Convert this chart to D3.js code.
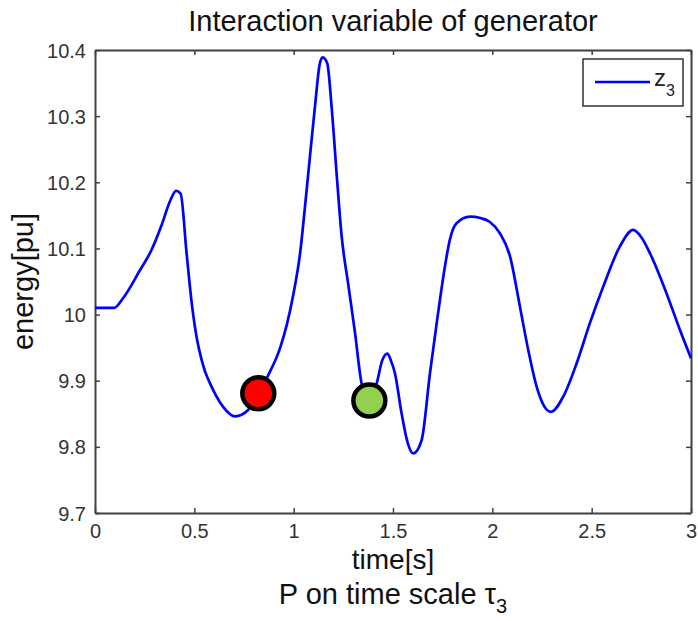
<!DOCTYPE html>
<html>
<head>
<meta charset="utf-8">
<script src="https://cdn.jsdelivr.net/npm/d3@7"></script>
<style>
  body { margin: 0; background: #fff; }
  text { font-family: Arial, "Liberation Sans", sans-serif; }
</style>
</head>
<body>
<div id="chart"></div>
<script>
// values
const timeS = [0, 0.05, 0.096, 0.142, 0.226, 0.285, 0.335, 0.377, 0.408, 0.431,
  0.461, 0.487, 0.512, 0.537, 0.554, 0.579, 0.612, 0.646, 0.705, 0.772,
  0.822, 0.873, 0.931, 0.965, 0.998, 1.032, 1.057, 1.082, 1.107, 1.132,
  1.146, 1.169, 1.191, 1.216, 1.241, 1.275, 1.309, 1.342, 1.381, 1.418,
  1.445, 1.472, 1.49, 1.51, 1.543, 1.575, 1.602, 1.644, 1.686, 1.72,
  1.761, 1.786, 1.82, 1.887, 1.94, 1.988, 2.038, 2.089, 2.139, 2.181,
  2.223, 2.26, 2.295, 2.357, 2.424, 2.491, 2.558, 2.642, 2.709, 2.75,
  2.793, 2.877, 2.944, 3.0]
const energyZ3 = [10.01, 10.01, 10.01, 10.025, 10.067, 10.098, 10.135, 10.171, 10.187, 10.183,
  10.093, 10.017, 9.965, 9.931, 9.914, 9.896, 9.876, 9.86, 9.846, 9.856,
  9.881, 9.909, 9.949, 9.984, 10.03, 10.092, 10.163, 10.239, 10.314, 10.38,
  10.389, 10.38, 10.314, 10.214, 10.12, 10.045, 9.972, 9.896, 9.87, 9.896,
  9.93, 9.941, 9.93, 9.911, 9.851, 9.805, 9.79, 9.81, 9.911, 9.987,
  10.072, 10.113, 10.138, 10.148, 10.146, 10.14, 10.123, 10.088, 10.012, 9.946,
  9.891, 9.862, 9.853, 9.876, 9.926, 9.987, 10.042, 10.103, 10.128, 10.117,
  10.093, 10.032, 9.977, 9.934]

const markerT = [0.822, 1.381]
const markerE = [9.881, 9.870]
const markerColors = ['#ff0000', '#92d050']

const xTicks = [0, 0.5, 1, 1.5, 2, 2.5, 3]
const yTicks = [9.7, 9.8, 9.9, 10, 10.1, 10.2, 10.3, 10.4]

const W = 698, H = 621
const margin = {top: 50, right: 7, bottom: 108, left: 95}
const width = W - margin.left - margin.right
const height = H - margin.top - margin.bottom
const axisColor = '#404040'

const svg = d3.select('#chart').append('svg')
  .attr('width', W)
  .attr('height', H)

svg.append('rect').attr('width', W).attr('height', H).attr('fill', '#fff')

const g = svg.append('g')
  .attr('transform', `translate(${margin.left}, ${margin.top})`)

const x = d3.scaleLinear().domain([0, 3]).range([0, width])
const y = d3.scaleLinear().domain([9.7, 10.4]).range([height, 0])

// axes with inward ticks, mirrored on top and right
const fmt = d => d3.format('')(+d.toFixed(1))
const bottomAxis = g.append('g').attr('transform', `translate(0, ${height})`)
  .call(d3.axisBottom(x).tickValues(xTicks).tickSizeInner(-5).tickSizeOuter(0).tickPadding(11).tickFormat(fmt))
const leftAxis = g.append('g')
  .call(d3.axisLeft(y).tickValues(yTicks).tickSizeInner(-5).tickSizeOuter(0).tickPadding(9).tickFormat(fmt))
const topAxis = g.append('g')
  .call(d3.axisTop(x).tickValues(xTicks).tickSizeInner(-5).tickSizeOuter(0).tickFormat(''))
const rightAxis = g.append('g').attr('transform', `translate(${width}, 0)`)
  .call(d3.axisRight(y).tickValues(yTicks).tickSizeInner(-5).tickSizeOuter(0).tickFormat(''))

;[bottomAxis, leftAxis, topAxis, rightAxis].forEach(a => {
  a.select('.domain').attr('stroke', axisColor).attr('stroke-width', 2)
  a.selectAll('.tick line').attr('stroke', axisColor).attr('stroke-width', 1.5)
  a.selectAll('.tick text')
    .attr('fill', '#333')
    .style('font-size', '20px')
})
bottomAxis.selectAll('.tick text').attr('dy', '0.71em')
leftAxis.selectAll('.tick text').attr('dy', '0.35em')

// curve
const data = timeS.map((t, i) => ({t: t, e: energyZ3[i]}))
const line = d3.line()
  .x(d => x(d.t))
  .y(d => y(d.e))
  .curve(d3.curveMonotoneX)

g.append('path')
  .datum(data)
  .attr('fill', 'none')
  .attr('stroke', '#0000ff')
  .attr('stroke-width', 2.7)
  .attr('stroke-linejoin', 'round')
  .attr('d', line)

// markers
g.selectAll('circle.marker')
  .data(markerT.map((t, i) => ({t: t, e: markerE[i], c: markerColors[i]})))
  .enter()
  .append('circle')
  .attr('class', 'marker')
  .attr('cx', d => x(d.t))
  .attr('cy', d => y(d.e))
  .attr('r', 16)
  .attr('fill', d => d.c)
  .attr('stroke', '#000')
  .attr('stroke-width', 4.5)

// legend
const legend = g.append('g').attr('transform', `translate(${width - 108}, 9)`)
legend.append('rect')
  .attr('width', 100).attr('height', 47)
  .attr('fill', '#fff')
  .attr('stroke', '#333').attr('stroke-width', 1.5)
legend.append('line')
  .attr('x1', 12).attr('x2', 67).attr('y1', 23).attr('y2', 23)
  .attr('stroke', '#0000ff').attr('stroke-width', 2.7)
const lt = legend.append('text')
  .attr('x', 71).attr('y', 27)
  .attr('fill', '#222')
  .style('font-size', '24px')
lt.append('tspan').text('z')
lt.append('tspan').attr('dy', 10).style('font-size', '16px').text('3')

// titles
svg.append('text')
  .attr('x', margin.left + width / 2)
  .attr('y', 31)
  .attr('text-anchor', 'middle')
  .style('font-size', '29px')
  .attr('fill', '#111')
  .text('Interaction variable of generator')

svg.append('text')
  .attr('x', margin.left + width / 2)
  .attr('y', 569)
  .attr('text-anchor', 'middle')
  .style('font-size', '28px')
  .attr('fill', '#111')
  .text('time[s]')

const sub = svg.append('text')
  .attr('x', margin.left + width / 2)
  .attr('y', 604)
  .attr('text-anchor', 'middle')
  .style('font-size', '29px')
  .attr('fill', '#111')
sub.append('tspan').text('P on time scale τ')
sub.append('tspan').attr('dy', 9).style('font-size', '20px').text('3')

svg.append('text')
  .attr('transform', `translate(33, ${margin.top + y(10.05)}) rotate(-90)`)
  .attr('text-anchor', 'middle')
  .style('font-size', '29px')
  .attr('fill', '#111')
  .text('energy[pu]')
</script>
</body>
</html>
